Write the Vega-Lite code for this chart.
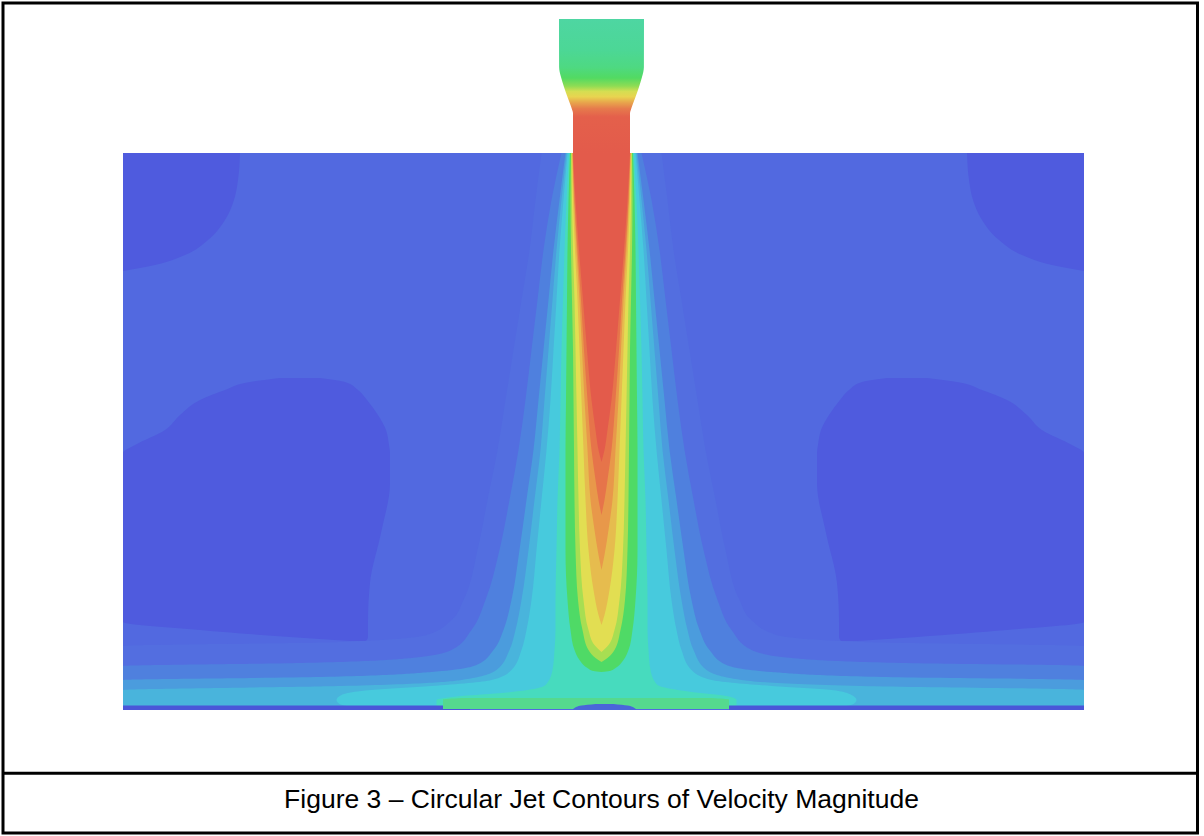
{
  "$schema": "https://vega.github.io/schema/vega-lite/v6.json",
  "width": 1204,
  "height": 836,
  "autosize": {"type": "fit", "contains": "padding"},
  "padding": 0,
  "background": "#ffffff",
  "config": {"view": {"stroke": null}},
  "layer": [
    {
      "data": {"values": [{"zone": "bg", "x1": -478.5, "x2": 482.5, "y1": 0, "y2": 557}]},
      "mark": {"type": "rect"},
      "encoding": {
        "x": {"field": "x1", "type": "quantitative", "scale": {"domain": [-601.5, 602.5], "nice": false, "zero": false}, "axis": null},
        "x2": {"field": "x2"},
        "y": {"field": "y1", "type": "quantitative", "scale": {"domain": [-126, 710], "nice": false, "zero": false}, "axis": null},
        "y2": {"field": "y2"},
        "color": {"field": "zone", "type": "nominal", "legend": null, "scale": {"domain": ["bg","dark","Z0","Z1","Z2","Z3","Z4","Z5","Z6","Z7","Z8","Z9","Z10","Z11","Z12","G","line","spot"], "range": ["#5269E0","#4F5BDE","#536EE0","#4F80DE","#4B9CDD","#49B4DC","#47CADD","#47DBBE","#4FDA66","#A8DE52","#E2DE52","#E6BC4E","#E8984A","#E6744A","#E35B4B","#55D98E","#4A56D8","#4A66DA"]}}
      }
    },
    {
      "data": {"values": [
        {"zone": "dark", "shape": "TL", "y": 557, "x1": -478.5, "x2": -361.5},
        {"zone": "dark", "shape": "TL", "y": 530, "x1": -478.5, "x2": -363.5},
        {"zone": "dark", "shape": "TL", "y": 510, "x1": -478.5, "x2": -367.5},
        {"zone": "dark", "shape": "TL", "y": 490, "x1": -478.5, "x2": -376.5},
        {"zone": "dark", "shape": "TL", "y": 470, "x1": -478.5, "x2": -393.5},
        {"zone": "dark", "shape": "TL", "y": 455, "x1": -478.5, "x2": -416.5},
        {"zone": "dark", "shape": "TL", "y": 445, "x1": -478.5, "x2": -446.5},
        {"zone": "dark", "shape": "TL", "y": 439, "x1": -478.5, "x2": -478.5},
        {"zone": "dark", "shape": "TR", "y": 557, "x1": 365.5, "x2": 482.5},
        {"zone": "dark", "shape": "TR", "y": 530, "x1": 367.5, "x2": 482.5},
        {"zone": "dark", "shape": "TR", "y": 510, "x1": 371.5, "x2": 482.5},
        {"zone": "dark", "shape": "TR", "y": 490, "x1": 380.5, "x2": 482.5},
        {"zone": "dark", "shape": "TR", "y": 470, "x1": 397.5, "x2": 482.5},
        {"zone": "dark", "shape": "TR", "y": 455, "x1": 420.5, "x2": 482.5},
        {"zone": "dark", "shape": "TR", "y": 445, "x1": 450.5, "x2": 482.5},
        {"zone": "dark", "shape": "TR", "y": 439, "x1": 482.5, "x2": 482.5},
        {"zone": "dark", "shape": "BL", "y": 332, "x1": -321.5, "x2": -281.5},
        {"zone": "dark", "shape": "BL", "y": 328, "x1": -351.5, "x2": -256.5},
        {"zone": "dark", "shape": "BL", "y": 320, "x1": -376.5, "x2": -243.5},
        {"zone": "dark", "shape": "BL", "y": 310, "x1": -401.5, "x2": -234.5},
        {"zone": "dark", "shape": "BL", "y": 295, "x1": -421.5, "x2": -223.5},
        {"zone": "dark", "shape": "BL", "y": 280, "x1": -436.5, "x2": -215.5},
        {"zone": "dark", "shape": "BL", "y": 265, "x1": -466.5, "x2": -212.5},
        {"zone": "dark", "shape": "BL", "y": 257, "x1": -478.5, "x2": -211.5},
        {"zone": "dark", "shape": "BL", "y": 227, "x1": -478.5, "x2": -211.5},
        {"zone": "dark", "shape": "BL", "y": 177, "x1": -478.5, "x2": -220.5},
        {"zone": "dark", "shape": "BL", "y": 127, "x1": -478.5, "x2": -231.5},
        {"zone": "dark", "shape": "BL", "y": 88, "x1": -478.5, "x2": -233.5},
        {"zone": "dark", "shape": "BL", "y": 80, "x1": -401.5, "x2": -233.5},
        {"zone": "dark", "shape": "BL", "y": 73, "x1": -311.5, "x2": -233.5},
        {"zone": "dark", "shape": "BL", "y": 69, "x1": -251.5, "x2": -235.5},
        {"zone": "dark", "shape": "BR", "y": 332, "x1": 285.5, "x2": 325.5},
        {"zone": "dark", "shape": "BR", "y": 328, "x1": 260.5, "x2": 355.5},
        {"zone": "dark", "shape": "BR", "y": 320, "x1": 247.5, "x2": 380.5},
        {"zone": "dark", "shape": "BR", "y": 310, "x1": 238.5, "x2": 405.5},
        {"zone": "dark", "shape": "BR", "y": 295, "x1": 227.5, "x2": 425.5},
        {"zone": "dark", "shape": "BR", "y": 280, "x1": 219.5, "x2": 440.5},
        {"zone": "dark", "shape": "BR", "y": 265, "x1": 216.5, "x2": 470.5},
        {"zone": "dark", "shape": "BR", "y": 257, "x1": 215.5, "x2": 482.5},
        {"zone": "dark", "shape": "BR", "y": 227, "x1": 215.5, "x2": 482.5},
        {"zone": "dark", "shape": "BR", "y": 177, "x1": 224.5, "x2": 482.5},
        {"zone": "dark", "shape": "BR", "y": 127, "x1": 235.5, "x2": 482.5},
        {"zone": "dark", "shape": "BR", "y": 88, "x1": 237.5, "x2": 482.5},
        {"zone": "dark", "shape": "BR", "y": 80, "x1": 237.5, "x2": 405.5},
        {"zone": "dark", "shape": "BR", "y": 73, "x1": 237.5, "x2": 315.5},
        {"zone": "dark", "shape": "BR", "y": 69, "x1": 239.5, "x2": 255.5}
      ]},
      "mark": {"type": "area", "orient": "horizontal", "interpolate": "monotone"},
      "encoding": {
        "y": {"field": "y", "type": "quantitative", "scale": {"domain": [-126, 710], "nice": false, "zero": false}, "axis": null},
        "x": {"field": "x1", "type": "quantitative", "stack": null, "scale": {"domain": [-601.5, 602.5], "nice": false, "zero": false}, "axis": null},
        "x2": {"field": "x2"},
        "detail": {"field": "shape"},
        "color": {"field": "zone", "type": "nominal", "legend": null, "scale": {"domain": ["bg","dark","Z0","Z1","Z2","Z3","Z4","Z5","Z6","Z7","Z8","Z9","Z10","Z11","Z12","G","line","spot"], "range": ["#5269E0","#4F5BDE","#536EE0","#4F80DE","#4B9CDD","#49B4DC","#47CADD","#47DBBE","#4FDA66","#A8DE52","#E2DE52","#E6BC4E","#E8984A","#E6744A","#E35B4B","#55D98E","#4A56D8","#4A66DA"]}}
      }
    },
    {
      "data": {"values": [
        {"zone": "Z0", "y": 557, "x1": -60, "x2": 60},
        {"zone": "Z0", "y": 510, "x1": -66, "x2": 66},
        {"zone": "Z0", "y": 460, "x1": -72, "x2": 72},
        {"zone": "Z0", "y": 410, "x1": -80, "x2": 80},
        {"zone": "Z0", "y": 360, "x1": -88, "x2": 88},
        {"zone": "Z0", "y": 310, "x1": -96, "x2": 96},
        {"zone": "Z0", "y": 260, "x1": -104, "x2": 104},
        {"zone": "Z0", "y": 210, "x1": -114, "x2": 114},
        {"zone": "Z0", "y": 160, "x1": -124, "x2": 124},
        {"zone": "Z0", "y": 110, "x1": -138, "x2": 138},
        {"zone": "Z0", "y": 90, "x1": -150, "x2": 150},
        {"zone": "Z0", "y": 75, "x1": -175, "x2": 175},
        {"zone": "Z0", "y": 68, "x1": -260, "x2": 260},
        {"zone": "Z0", "y": 64, "x1": -478.5, "x2": 482.5},
        {"zone": "Z0", "y": 4, "x1": -478.5, "x2": 482.5},

        {"zone": "Z1", "y": 557, "x1": -40, "x2": 40},
        {"zone": "Z1", "y": 510, "x1": -50, "x2": 50},
        {"zone": "Z1", "y": 460, "x1": -58, "x2": 58},
        {"zone": "Z1", "y": 410, "x1": -64, "x2": 64},
        {"zone": "Z1", "y": 360, "x1": -70, "x2": 70},
        {"zone": "Z1", "y": 310, "x1": -76, "x2": 76},
        {"zone": "Z1", "y": 260, "x1": -83, "x2": 83},
        {"zone": "Z1", "y": 210, "x1": -92, "x2": 92},
        {"zone": "Z1", "y": 160, "x1": -102, "x2": 102},
        {"zone": "Z1", "y": 110, "x1": -116, "x2": 116},
        {"zone": "Z1", "y": 80, "x1": -130, "x2": 130},
        {"zone": "Z1", "y": 60, "x1": -150, "x2": 150},
        {"zone": "Z1", "y": 52, "x1": -190, "x2": 190},
        {"zone": "Z1", "y": 47, "x1": -300, "x2": 300},
        {"zone": "Z1", "y": 44, "x1": -478.5, "x2": 482.5},
        {"zone": "Z1", "y": 4, "x1": -478.5, "x2": 482.5},

        {"zone": "Z2", "y": 557, "x1": -36, "x2": 36},
        {"zone": "Z2", "y": 510, "x1": -42, "x2": 42},
        {"zone": "Z2", "y": 460, "x1": -48, "x2": 48},
        {"zone": "Z2", "y": 410, "x1": -53, "x2": 53},
        {"zone": "Z2", "y": 360, "x1": -58, "x2": 58},
        {"zone": "Z2", "y": 310, "x1": -63, "x2": 63},
        {"zone": "Z2", "y": 260, "x1": -68, "x2": 68},
        {"zone": "Z2", "y": 210, "x1": -75, "x2": 75},
        {"zone": "Z2", "y": 160, "x1": -82, "x2": 82},
        {"zone": "Z2", "y": 110, "x1": -90, "x2": 90},
        {"zone": "Z2", "y": 80, "x1": -98, "x2": 98},
        {"zone": "Z2", "y": 60, "x1": -108, "x2": 108},
        {"zone": "Z2", "y": 45, "x1": -125, "x2": 125},
        {"zone": "Z2", "y": 38, "x1": -170, "x2": 170},
        {"zone": "Z2", "y": 33, "x1": -280, "x2": 280},
        {"zone": "Z2", "y": 30, "x1": -478.5, "x2": 482.5},
        {"zone": "Z2", "y": 4, "x1": -478.5, "x2": 482.5},

        {"zone": "Z3", "y": 557, "x1": -35, "x2": 35},
        {"zone": "Z3", "y": 510, "x1": -40, "x2": 40},
        {"zone": "Z3", "y": 460, "x1": -45, "x2": 45},
        {"zone": "Z3", "y": 410, "x1": -49, "x2": 49},
        {"zone": "Z3", "y": 360, "x1": -53, "x2": 53},
        {"zone": "Z3", "y": 310, "x1": -57, "x2": 57},
        {"zone": "Z3", "y": 260, "x1": -61, "x2": 61},
        {"zone": "Z3", "y": 210, "x1": -67, "x2": 67},
        {"zone": "Z3", "y": 160, "x1": -73, "x2": 73},
        {"zone": "Z3", "y": 110, "x1": -80, "x2": 80},
        {"zone": "Z3", "y": 80, "x1": -86, "x2": 86},
        {"zone": "Z3", "y": 60, "x1": -92, "x2": 92},
        {"zone": "Z3", "y": 40, "x1": -105, "x2": 105},
        {"zone": "Z3", "y": 30, "x1": -140, "x2": 140},
        {"zone": "Z3", "y": 24, "x1": -260, "x2": 260},
        {"zone": "Z3", "y": 20, "x1": -478.5, "x2": 482.5},
        {"zone": "Z3", "y": 4, "x1": -478.5, "x2": 482.5},

        {"zone": "Z4", "y": 557, "x1": -34, "x2": 34},
        {"zone": "Z4", "y": 510, "x1": -38, "x2": 38},
        {"zone": "Z4", "y": 460, "x1": -42, "x2": 42},
        {"zone": "Z4", "y": 410, "x1": -45, "x2": 45},
        {"zone": "Z4", "y": 360, "x1": -48, "x2": 48},
        {"zone": "Z4", "y": 310, "x1": -51, "x2": 51},
        {"zone": "Z4", "y": 260, "x1": -55, "x2": 55},
        {"zone": "Z4", "y": 210, "x1": -60, "x2": 60},
        {"zone": "Z4", "y": 160, "x1": -65, "x2": 65},
        {"zone": "Z4", "y": 110, "x1": -70, "x2": 70},
        {"zone": "Z4", "y": 80, "x1": -75, "x2": 75},
        {"zone": "Z4", "y": 60, "x1": -80, "x2": 80},
        {"zone": "Z4", "y": 40, "x1": -90, "x2": 90},
        {"zone": "Z4", "y": 30, "x1": -110, "x2": 110},
        {"zone": "Z4", "y": 24, "x1": -170, "x2": 170},
        {"zone": "Z4", "y": 20, "x1": -230, "x2": 230},
        {"zone": "Z4", "y": 15, "x1": -260, "x2": 250},
        {"zone": "Z4", "y": 10, "x1": -265, "x2": 255},
        {"zone": "Z4", "y": 6, "x1": -262, "x2": 252},
        {"zone": "Z4", "y": 4, "x1": -255, "x2": 245},

        {"zone": "Z5", "y": 557, "x1": -32.5, "x2": 32.5},
        {"zone": "Z5", "y": 510, "x1": -35, "x2": 35},
        {"zone": "Z5", "y": 460, "x1": -37, "x2": 37},
        {"zone": "Z5", "y": 410, "x1": -38.5, "x2": 38.5},
        {"zone": "Z5", "y": 360, "x1": -40, "x2": 40},
        {"zone": "Z5", "y": 310, "x1": -41, "x2": 41},
        {"zone": "Z5", "y": 260, "x1": -42, "x2": 42},
        {"zone": "Z5", "y": 210, "x1": -44, "x2": 44},
        {"zone": "Z5", "y": 160, "x1": -45, "x2": 45},
        {"zone": "Z5", "y": 110, "x1": -46, "x2": 46},
        {"zone": "Z5", "y": 80, "x1": -46, "x2": 46},
        {"zone": "Z5", "y": 60, "x1": -47, "x2": 47},
        {"zone": "Z5", "y": 40, "x1": -49, "x2": 49},
        {"zone": "Z5", "y": 25, "x1": -56, "x2": 56},
        {"zone": "Z5", "y": 18, "x1": -90, "x2": 90},
        {"zone": "Z5", "y": 14, "x1": -140, "x2": 125},
        {"zone": "Z5", "y": 10, "x1": -165, "x2": 135},
        {"zone": "Z5", "y": 4, "x1": -165, "x2": 135},

        {"zone": "Z6", "y": 557, "x1": -31.5, "x2": 31.5},
        {"zone": "Z6", "y": 510, "x1": -33, "x2": 33},
        {"zone": "Z6", "y": 460, "x1": -34, "x2": 34},
        {"zone": "Z6", "y": 410, "x1": -34.5, "x2": 34.5},
        {"zone": "Z6", "y": 360, "x1": -35, "x2": 35},
        {"zone": "Z6", "y": 310, "x1": -35.5, "x2": 35.5},
        {"zone": "Z6", "y": 260, "x1": -36, "x2": 36},
        {"zone": "Z6", "y": 210, "x1": -36, "x2": 36},
        {"zone": "Z6", "y": 160, "x1": -36, "x2": 36},
        {"zone": "Z6", "y": 110, "x1": -34, "x2": 34},
        {"zone": "Z6", "y": 80, "x1": -31, "x2": 31},
        {"zone": "Z6", "y": 60, "x1": -27, "x2": 27},
        {"zone": "Z6", "y": 50, "x1": -22, "x2": 22},
        {"zone": "Z6", "y": 42, "x1": -14, "x2": 14},
        {"zone": "Z6", "y": 39, "x1": -8, "x2": 8},
        {"zone": "Z6", "y": 38, "x1": 0, "x2": 0},

        {"zone": "Z7", "y": 557, "x1": -30.5, "x2": 30.5},
        {"zone": "Z7", "y": 510, "x1": -31, "x2": 31},
        {"zone": "Z7", "y": 460, "x1": -30.5, "x2": 30.5},
        {"zone": "Z7", "y": 410, "x1": -29.5, "x2": 29.5},
        {"zone": "Z7", "y": 360, "x1": -28.5, "x2": 28.5},
        {"zone": "Z7", "y": 310, "x1": -28, "x2": 28},
        {"zone": "Z7", "y": 260, "x1": -27.5, "x2": 27.5},
        {"zone": "Z7", "y": 210, "x1": -27, "x2": 27},
        {"zone": "Z7", "y": 160, "x1": -26, "x2": 26},
        {"zone": "Z7", "y": 110, "x1": -23.5, "x2": 23.5},
        {"zone": "Z7", "y": 80, "x1": -19, "x2": 19},
        {"zone": "Z7", "y": 60, "x1": -13, "x2": 13},
        {"zone": "Z7", "y": 52, "x1": -6, "x2": 6},
        {"zone": "Z7", "y": 48, "x1": 0, "x2": 0},

        {"zone": "Z8", "y": 557, "x1": -30, "x2": 30},
        {"zone": "Z8", "y": 510, "x1": -29.5, "x2": 29.5},
        {"zone": "Z8", "y": 460, "x1": -28.5, "x2": 28.5},
        {"zone": "Z8", "y": 410, "x1": -27, "x2": 27},
        {"zone": "Z8", "y": 360, "x1": -26, "x2": 26},
        {"zone": "Z8", "y": 310, "x1": -25, "x2": 25},
        {"zone": "Z8", "y": 260, "x1": -24, "x2": 24},
        {"zone": "Z8", "y": 210, "x1": -23, "x2": 23},
        {"zone": "Z8", "y": 160, "x1": -21.5, "x2": 21.5},
        {"zone": "Z8", "y": 110, "x1": -18, "x2": 18},
        {"zone": "Z8", "y": 80, "x1": -13, "x2": 13},
        {"zone": "Z8", "y": 65, "x1": -7, "x2": 7},
        {"zone": "Z8", "y": 58, "x1": 0, "x2": 0},

        {"zone": "Z9", "y": 557, "x1": -29.5, "x2": 29.5},
        {"zone": "Z9", "y": 510, "x1": -28.5, "x2": 28.5},
        {"zone": "Z9", "y": 460, "x1": -26.5, "x2": 26.5},
        {"zone": "Z9", "y": 410, "x1": -24, "x2": 24},
        {"zone": "Z9", "y": 360, "x1": -22, "x2": 22},
        {"zone": "Z9", "y": 310, "x1": -20, "x2": 20},
        {"zone": "Z9", "y": 260, "x1": -18, "x2": 18},
        {"zone": "Z9", "y": 210, "x1": -16, "x2": 16},
        {"zone": "Z9", "y": 160, "x1": -13, "x2": 13},
        {"zone": "Z9", "y": 120, "x1": -8, "x2": 8},
        {"zone": "Z9", "y": 95, "x1": -3, "x2": 3},
        {"zone": "Z9", "y": 85, "x1": 0, "x2": 0},

        {"zone": "Z10", "y": 557, "x1": -29, "x2": 29},
        {"zone": "Z10", "y": 510, "x1": -27.5, "x2": 27.5},
        {"zone": "Z10", "y": 460, "x1": -25, "x2": 25},
        {"zone": "Z10", "y": 410, "x1": -22, "x2": 22},
        {"zone": "Z10", "y": 360, "x1": -19.5, "x2": 19.5},
        {"zone": "Z10", "y": 310, "x1": -17, "x2": 17},
        {"zone": "Z10", "y": 260, "x1": -14, "x2": 14},
        {"zone": "Z10", "y": 210, "x1": -11, "x2": 11},
        {"zone": "Z10", "y": 180, "x1": -7, "x2": 7},
        {"zone": "Z10", "y": 155, "x1": -3, "x2": 3},
        {"zone": "Z10", "y": 140, "x1": 0, "x2": 0},

        {"zone": "Z11", "y": 557, "x1": -28.7, "x2": 28.7},
        {"zone": "Z11", "y": 510, "x1": -27, "x2": 27},
        {"zone": "Z11", "y": 460, "x1": -24, "x2": 24},
        {"zone": "Z11", "y": 410, "x1": -20.5, "x2": 20.5},
        {"zone": "Z11", "y": 360, "x1": -17.5, "x2": 17.5},
        {"zone": "Z11", "y": 310, "x1": -14, "x2": 14},
        {"zone": "Z11", "y": 260, "x1": -10, "x2": 10},
        {"zone": "Z11", "y": 230, "x1": -6, "x2": 6},
        {"zone": "Z11", "y": 210, "x1": -3, "x2": 3},
        {"zone": "Z11", "y": 195, "x1": 0, "x2": 0},

        {"zone": "Z12", "y": 557, "x1": -28.5, "x2": 28.5},
        {"zone": "Z12", "y": 510, "x1": -26, "x2": 26},
        {"zone": "Z12", "y": 460, "x1": -22.5, "x2": 22.5},
        {"zone": "Z12", "y": 410, "x1": -18.5, "x2": 18.5},
        {"zone": "Z12", "y": 360, "x1": -14.5, "x2": 14.5},
        {"zone": "Z12", "y": 310, "x1": -10, "x2": 10},
        {"zone": "Z12", "y": 280, "x1": -6, "x2": 6},
        {"zone": "Z12", "y": 260, "x1": -3, "x2": 3},
        {"zone": "Z12", "y": 248, "x1": 0, "x2": 0}
      ]},
      "mark": {"type": "area", "orient": "horizontal", "interpolate": "monotone"},
      "encoding": {
        "y": {"field": "y", "type": "quantitative", "scale": {"domain": [-126, 710], "nice": false, "zero": false}, "axis": null},
        "x": {"field": "x1", "type": "quantitative", "stack": null, "scale": {"domain": [-601.5, 602.5], "nice": false, "zero": false}, "axis": null},
        "x2": {"field": "x2"},
        "color": {"field": "zone", "type": "nominal", "legend": null, "scale": {"domain": ["bg","dark","Z0","Z1","Z2","Z3","Z4","Z5","Z6","Z7","Z8","Z9","Z10","Z11","Z12","G","line","spot"], "range": ["#5269E0","#4F5BDE","#536EE0","#4F80DE","#4B9CDD","#49B4DC","#47CADD","#47DBBE","#4FDA66","#A8DE52","#E2DE52","#E6BC4E","#E8984A","#E6744A","#E35B4B","#55D98E","#4A56D8","#4A66DA"]}}
      }
    },
    {
      "data": {"values": [
        {"zone": "line", "x1": -478.5, "x2": -131.5, "y1": 0, "y2": 4.5},
        {"zone": "line", "x1": 127.5, "x2": 482.5, "y1": 0, "y2": 4.5}
      ]},
      "mark": {"type": "rect"},
      "encoding": {
        "x": {"field": "x1", "type": "quantitative", "scale": {"domain": [-601.5, 602.5], "nice": false, "zero": false}, "axis": null},
        "x2": {"field": "x2"},
        "y": {"field": "y1", "type": "quantitative", "scale": {"domain": [-126, 710], "nice": false, "zero": false}, "axis": null},
        "y2": {"field": "y2"},
        "color": {"field": "zone", "type": "nominal", "legend": null, "scale": {"domain": ["bg","dark","Z0","Z1","Z2","Z3","Z4","Z5","Z6","Z7","Z8","Z9","Z10","Z11","Z12","G","line","spot"], "range": ["#5269E0","#4F5BDE","#536EE0","#4F80DE","#4B9CDD","#49B4DC","#47CADD","#47DBBE","#4FDA66","#A8DE52","#E2DE52","#E6BC4E","#E8984A","#E6744A","#E35B4B","#55D98E","#4A56D8","#4A66DA"]}}
      }
    },
    {
      "data": {"values": [
        {"zone": "G", "y": 12, "x1": -140, "x2": 110},
        {"zone": "G", "y": 10.5, "x1": -158.5, "x2": 127.5},
        {"zone": "G", "y": 1, "x1": -158.5, "x2": 127.5},
        {"zone": "spot", "y": 6, "x1": -6, "x2": 12},
        {"zone": "spot", "y": 4.5, "x1": -20, "x2": 26},
        {"zone": "spot", "y": 2, "x1": -27, "x2": 33},
        {"zone": "spot", "y": 0, "x1": -29, "x2": 35}
      ]},
      "mark": {"type": "area", "orient": "horizontal", "interpolate": "monotone"},
      "encoding": {
        "y": {"field": "y", "type": "quantitative", "scale": {"domain": [-126, 710], "nice": false, "zero": false}, "axis": null},
        "x": {"field": "x1", "type": "quantitative", "stack": null, "scale": {"domain": [-601.5, 602.5], "nice": false, "zero": false}, "axis": null},
        "x2": {"field": "x2"},
        "color": {"field": "zone", "type": "nominal", "legend": null, "scale": {"domain": ["bg","dark","Z0","Z1","Z2","Z3","Z4","Z5","Z6","Z7","Z8","Z9","Z10","Z11","Z12","G","line","spot"], "range": ["#5269E0","#4F5BDE","#536EE0","#4F80DE","#4B9CDD","#49B4DC","#47CADD","#47DBBE","#4FDA66","#A8DE52","#E2DE52","#E6BC4E","#E8984A","#E6744A","#E35B4B","#55D98E","#4A56D8","#4A66DA"]}}
      }
    },
    {
      "data": {"values": [
        {"y": 691, "x1": -42.5, "x2": 42.5},
        {"y": 643, "x1": -42.4, "x2": 42.4},
        {"y": 638, "x1": -41.8, "x2": 41.8},
        {"y": 633, "x1": -40.5, "x2": 40.5},
        {"y": 623, "x1": -37.5, "x2": 37.5},
        {"y": 613, "x1": -34, "x2": 34},
        {"y": 605, "x1": -31, "x2": 31},
        {"y": 600, "x1": -29.3, "x2": 29.3},
        {"y": 597, "x1": -28.5, "x2": 28.5},
        {"y": 557, "x1": -28.5, "x2": 28.5}
      ]},
      "mark": {"type": "area", "orient": "horizontal", "interpolate": "monotone",
        "color": {"gradient": "linear", "x1": 0, "y1": 0, "x2": 0, "y2": 1, "stops": [
          {"offset": 0, "color": "#4ED6A2"},
          {"offset": 0.23, "color": "#4CD796"},
          {"offset": 0.36, "color": "#4ED982"},
          {"offset": 0.44, "color": "#52DA62"},
          {"offset": 0.5, "color": "#8EDC54"},
          {"offset": 0.54, "color": "#D4DE52"},
          {"offset": 0.58, "color": "#E8D450"},
          {"offset": 0.62, "color": "#E8A84C"},
          {"offset": 0.67, "color": "#E67A4C"},
          {"offset": 0.73, "color": "#E4604B"},
          {"offset": 1, "color": "#E35B4B"}
        ]}},
      "encoding": {
        "y": {"field": "y", "type": "quantitative", "scale": {"domain": [-126, 710], "nice": false, "zero": false}, "axis": null},
        "x": {"field": "x1", "type": "quantitative", "stack": null, "scale": {"domain": [-601.5, 602.5], "nice": false, "zero": false}, "axis": null},
        "x2": {"field": "x2"}
      }
    },
    {
      "data": {"values": [{}]},
      "mark": {"type": "rect", "filled": false, "color": "#000000", "strokeWidth": 3},
      "encoding": {
        "x": {"datum": -598.5, "type": "quantitative", "scale": {"domain": [-601.5, 602.5], "nice": false, "zero": false}, "axis": null},
        "x2": {"datum": 596},
        "y": {"datum": 707, "type": "quantitative", "scale": {"domain": [-126, 710], "nice": false, "zero": false}, "axis": null},
        "y2": {"datum": -123}
      }
    },
    {
      "data": {"values": [{}]},
      "mark": {"type": "rule", "color": "#000000", "strokeWidth": 3},
      "encoding": {
        "x": {"datum": -598.5, "type": "quantitative", "scale": {"domain": [-601.5, 602.5], "nice": false, "zero": false}, "axis": null},
        "x2": {"datum": 596},
        "y": {"datum": -63.3, "type": "quantitative", "scale": {"domain": [-126, 710], "nice": false, "zero": false}, "axis": null}
      }
    },
    {
      "data": {"values": [{"caption": "Figure 3 – Circular Jet Contours of Velocity Magnitude"}]},
      "mark": {"type": "text", "font": "Liberation Sans", "fontSize": 26.5, "color": "#000000", "align": "center", "baseline": "alphabetic"},
      "encoding": {
        "x": {"datum": 0, "type": "quantitative", "scale": {"domain": [-601.5, 602.5], "nice": false, "zero": false}, "axis": null},
        "y": {"datum": -97.5, "type": "quantitative", "scale": {"domain": [-126, 710], "nice": false, "zero": false}, "axis": null},
        "text": {"field": "caption"}
      }
    }
  ]
}
